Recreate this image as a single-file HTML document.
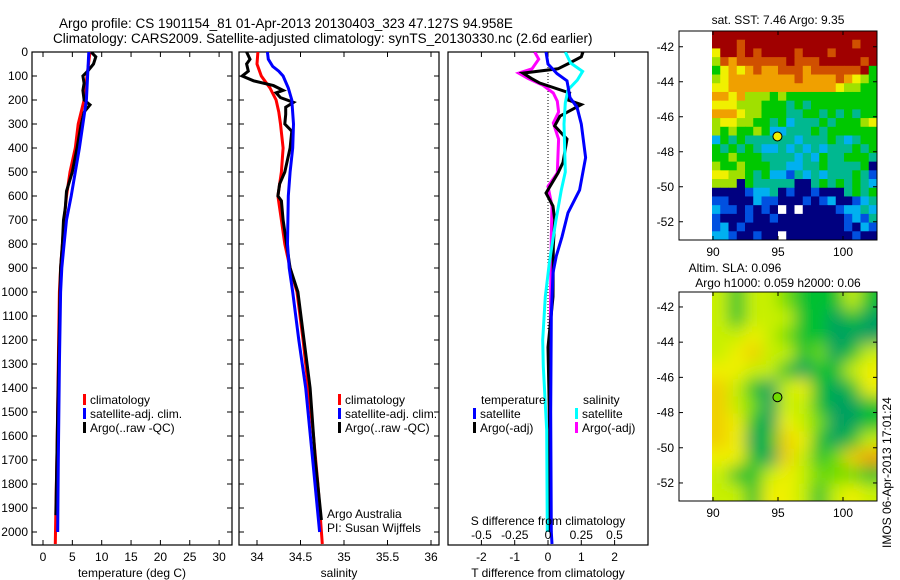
<!DOCTYPE html>
<html><head><meta charset="utf-8"><style>
body{margin:0;background:#fff;}
svg{display:block;font-family:"Liberation Sans",sans-serif;}
</style></head><body>
<svg id="fig" width="900" height="580" viewBox="0 0 900 580" xmlns="http://www.w3.org/2000/svg">
<text x="59" y="28" font-size="13.5">Argo profile: CS 1901154_81 01-Apr-2013 20130403_323 47.127S 94.958E</text>
<text x="53" y="43" font-size="13.5">Climatology: CARS2009. Satellite-adjusted climatology: synTS_20130330.nc (2.6d earlier)</text>
<text x="327" y="518" font-size="12">Argo Australia</text>
<text x="327" y="532" font-size="12">PI: Susan Wijffels</text>
<text x="778" y="24" font-size="12" text-anchor="middle">sat. SST: 7.46 Argo: 9.35</text>
<text x="735" y="272" font-size="12" text-anchor="middle">Altim. SLA: 0.096</text>
<text x="778" y="287" font-size="12" text-anchor="middle">Argo h1000: 0.059 h2000: 0.06</text>
<text transform="translate(891,548) rotate(-90)" font-size="12">IMOS 06-Apr-2013 17:01:24</text>
<defs><filter id="blur" filterUnits="userSpaceOnUse" x="690" y="270" width="210" height="260"><feGaussianBlur stdDeviation="8"/></filter>
<clipPath id="c2"><rect x="712" y="292" width="165" height="209"/></clipPath>
<clipPath id="cp1"><rect x="32" y="52" width="200" height="493"/></clipPath>
<clipPath id="cp2"><rect x="239" y="52" width="200" height="493"/></clipPath>
<clipPath id="cp3"><rect x="448" y="52" width="200" height="493"/></clipPath></defs>
</svg>
<script>
// ---- data ----
const depthTicks=[0,100,200,300,400,500,600,700,800,900,1000,1100,1200,1300,1400,1500,1600,1700,1800,1900,2000];
const tempTicks=[0,5,10,15,20,25,30];
const salTicks=[34,34.5,35,35.5,36];
const tdiffTicks=[-2,-1,0,1,2];
const sdiffTicks=[-0.5,-0.25,0,0.25,0.5];
const tClimDepth=[0,100,200,300,400,500,600,700,800,900,1000,1300,1650,1900,2050];
const tClim=[8.0,7.5,7.0,6.0,5.5,4.6,4.0,3.6,3.3,3.0,2.8,2.6,2.4,2.2,2.1];
const tSatDepth=[0,100,200,300,400,500,600,700,800,900,1000,1300,1700,2000];
const tSat=[7.8,7.6,7.4,6.8,6.2,5.5,4.8,4.0,3.6,3.2,3.0,2.8,2.6,2.5];
const tArgoDepth=[0,20,50,80,100,130,160,200,220,250,300,400,500,580,650,700,800,900,1000,1500,1930];
const tArgo=[8.2,9.0,8.6,7.6,6.8,7.0,6.8,7.0,8.0,7.0,6.5,5.8,5.0,4.0,3.8,3.5,3.3,3.0,2.9,2.5,2.2];
const sClimDepth=[0,50,100,150,200,250,300,400,500,600,700,800,900,1000,1200,1400,1600,1800,2050];
const sClim=[34.01,34.0,34.05,34.15,34.22,34.25,34.27,34.3,34.28,34.24,34.28,34.32,34.38,34.46,34.53,34.59,34.65,34.7,34.75];
const sSatDepth=[0,30,60,80,100,150,200,300,400,500,600,800,900,1000,1200,1400,1700,2000];
const sSat=[34.12,34.13,34.18,34.25,34.3,34.36,34.4,34.42,34.41,34.38,34.36,34.35,34.37,34.41,34.48,34.56,34.64,34.72];
const sArgoDepth=[0,30,50,80,100,120,140,160,170,190,210,230,260,300,330,400,500,550,600,620,700,800,900,1000,1400,1700,1950];
const sArgo=[33.88,33.92,33.88,33.9,33.83,33.96,34.19,34.3,34.22,34.27,34.42,34.33,34.33,34.32,34.4,34.38,34.32,34.26,34.24,34.28,34.3,34.34,34.38,34.47,34.61,34.67,34.74];
const dTSatDepth=[0,50,90,120,190,230,300,440,575,670,770,850,920,1100,1500,2000,2050];
const dTSat=[-0.06,0.0,0.27,0.57,0.66,0.87,1.0,1.13,0.95,0.6,0.42,0.25,0.15,0.1,0.08,0.1,0.12];
const dTArgoDepth=[0,20,46,70,88,110,129,171,200,219,267,308,363,460,504,588,642,700,812,1020,1230,1575,2000];
const dTArgo=[1.05,1.0,0.65,0.3,-0.75,-0.5,-0.25,0.65,0.6,1.0,0.36,0.2,0.57,0.45,0.3,-0.06,0.15,0.2,0.16,0.15,0.0,0.05,0.02];
const dSSatDepth=[0,46,81,117,158,212,300,500,575,700,770,880,1020,1200,1310,1575,2000];
const dSSat=[0.13,0.17,0.26,0.22,0.15,0.13,0.12,0.13,0.1,0.06,0.04,0.01,-0.02,-0.04,-0.035,-0.01,-0.005];
const dSArgoDepth=[0,30,70,88,110,138,171,205,250,296,363,504,560,642,770,1000,1437,2000];
const dSArgo=[-0.1,-0.07,-0.12,-0.22,-0.15,-0.04,0.04,0.07,0.08,0.04,0.08,0.07,0.0,0.03,0.025,0.02,0.01,0.005];
const lonTicks=[90,95,100];
const latTicks=[-42,-44,-46,-48,-50,-52];
const sstGrid=["99999999999999999999","99989999999999999899","69989899998999899999","58788888898889999989","46767877888788888894","56777777778777787654","66777777777777765544","77675554544444444444","66655544434344444444","77765544433443434344","56655443423334344456","54544542233343444444","24343333332333432344","43434322323232333434","44544433332324334443","54454443322334333340","66554342213232333431","55504333330034343432","00001223010010003434","11000211000101200123","21101010W0W000012232","10001001000000001213","12010000000000001021","22100100W00000000100"];
const slaGrid=["3133211131","3133311010","3343211000","3453312013","4433101134","5310341014","5320331001","5410432001","5401541013","4410531256","3113432221","3314431343"];
const sstColors=["#000080","#0050e0","#00b0f0","#00b890","#00c800","#a0e000","#f0f000","#f0a000","#d05000","#a00000"];
const slaColors=["#00a060","#00c030","#70dc00","#c8f000","#f0f000","#f0d000","#f0a000"];

const svg=document.getElementById('fig');
const NS='http://www.w3.org/2000/svg';
function mk(tag,attrs,parent){const e=document.createElementNS(NS,tag);for(const k in attrs)e.setAttribute(k,attrs[k]);(parent||svg).appendChild(e);return e;}
const yTop=52,yBot=545;
const yD=d=>yTop+d*0.24;

function panel(name,x0,x1,xs,ticks,fmt,showY,xlabel){
  const g=mk('g',{});
  
  
  mk('rect',{x:x0,y:yTop,width:x1-x0,height:yBot-yTop,fill:'none',stroke:'#000','stroke-width':1.2},g);
  ticks.forEach(t=>{const x=xs(t);
    mk('line',{x1:x,x2:x,y1:yTop,y2:yTop+5,stroke:'#000'},g);
    mk('line',{x1:x,x2:x,y1:yBot,y2:yBot-5,stroke:'#000'},g);
    const tx=mk('text',{x:x,y:561,'font-size':12,'text-anchor':'middle'},g);tx.textContent=fmt(t);
    
    
  });
  if(showY!==null) depthTicks.forEach(d=>{const y=yD(d);
    mk('line',{x1:x0,x2:x0+5,y1:y,y2:y,stroke:'#000'},g);
    mk('line',{x1:x1,x2:x1-5,y1:y,y2:y,stroke:'#000'},g);
    if(showY){const tx=mk('text',{x:28,y:y+4,'font-size':12,'text-anchor':'end'},g);tx.textContent=d;
      
      }
  });
  const xl=mk('text',{x:(x0+x1)/2,y:577,'font-size':12,'text-anchor':'middle'},g);xl.textContent=xlabel;
  
  
  return g;
}
function line(name,depths,vals,xs,color,clip){
  const pts=depths.map((d,i)=>xs(vals[i]).toFixed(1)+','+yD(d).toFixed(1)).join(' ');
  const p=mk('polyline',{points:pts,fill:'none',stroke:color,'stroke-width':3,'clip-path':'url(#'+clip+')'});
  
  
}
function legend(name,x,y,items){
  items.forEach((it,i)=>{
    const r=mk('rect',{x:x,y:y+i*14-10,width:3,height:11,fill:it[1]});
    
    
    const t=mk('text',{x:x+7,y:y+i*14,'font-size':12});t.textContent=it[0];
    
    
  });
}
// Panel 1 temperature
const xT=v=>43+v*5.87;
panel('temperature-panel',32,232,xT,tempTicks,t=>t,true,'temperature (deg C)');
line('temp-climatology-line',tClimDepth,tClim,xT,'#ff0000','cp1');
line('temp-argo-line',tArgoDepth,tArgo,xT,'#000','cp1');
line('temp-satellite-line',tSatDepth,tSat,xT,'#0000ff','cp1');
legend('temp-legend',83,404,[['climatology','#f00'],['satellite-adj. clim.','#00f'],['Argo(..raw -QC)','#000']]);
// Panel 2 salinity
const xS=v=>257+(v-34)*87;
panel('salinity-panel',239,439,xS,salTicks,t=>t,false,'salinity');
line('sal-climatology-line',sClimDepth,sClim,xS,'#ff0000','cp2');
line('sal-argo-line',sArgoDepth,sArgo,xS,'#000','cp2');
line('sal-satellite-line',sSatDepth,sSat,xS,'#0000ff','cp2');
legend('sal-legend',338,404,[['climatology','#f00'],['satellite-adj. clim.','#00f'],['Argo(..raw -QC)','#000']]);
// Panel 3 differences
const xDT=v=>548+v*33.3;
const xDS=v=>548+v*133;
panel('difference-panel',448,648,xDT,tdiffTicks,t=>t,null,'T difference from climatology');
mk('line',{x1:548,x2:548,y1:yTop,y2:330,stroke:'#000','stroke-dasharray':'1,2'});
line('dsal-argo-line',dSArgoDepth,dSArgo,xDS,'#ff00ff','cp3');
line('dtemp-argo-line',dTArgoDepth,dTArgo,xDT,'#000','cp3');
line('dsal-satellite-line',dSSatDepth,dSSat,xDS,'#00ffff','cp3');
line('dtemp-satellite-line',dTSatDepth,dTSat,xDT,'#0000ff','cp3');
sdiffTicks.forEach(t=>{const tx=mk('text',{x:xDS(t),y:539,'font-size':12,'text-anchor':'middle'});tx.textContent=(Math.round(t*100)/100);
  
  });
const sl=mk('text',{x:548,y:525,'font-size':12,'text-anchor':'middle'});sl.textContent='S difference from climatology';


const tl=mk('text',{x:481,y:404,'font-size':12});tl.textContent='temperature';


const sh=mk('text',{x:583,y:404,'font-size':12});sh.textContent='salinity';


legend('dtemp-legend',473,418,[['satellite','#00f'],['Argo(-adj)','#000']]);
legend('dsal-legend',575,418,[['satellite','#0ff'],['Argo(-adj)','#f0f']]);
// Maps
const mx0=679,mx1=877;
const lonX=v=>713+(v-90)*13;
function mapFrame(name,top,bot,latY){
  const g=mk('g',{});
  
  
  mk('rect',{x:mx0,y:top,width:mx1-mx0,height:bot-top,fill:'none',stroke:'#000'},g);
  lonTicks.forEach(t=>{const x=lonX(t);mk('line',{x1:x,x2:x,y1:bot,y2:bot-4,stroke:'#000'},g);mk('line',{x1:x,x2:x,y1:top,y2:top+4,stroke:'#000'},g);
    const tx=mk('text',{x:x,y:bot+16,'font-size':12,'text-anchor':'middle'},g);tx.textContent=t;
    
    });
  latTicks.forEach(t=>{const y=latY(t);mk('line',{x1:mx0,x2:mx0+4,y1:y,y2:y,stroke:'#000'},g);mk('line',{x1:mx1,x2:mx1-4,y1:y,y2:y,stroke:'#000'},g);
    const tx=mk('text',{x:674,y:y+4,'font-size':12,'text-anchor':'end'},g);tx.textContent=t;
    
    });
}
const lat1=v=>31+(-41.1-v)*17.5;
const lat2=v=>292+(-41.15-v)*17.6;
const cw=165/20,ch=209/24;
const sstG=mk('g',{});


sstGrid.forEach((row,r)=>{[...row].forEach((c,k)=>{
  const fill=c==='W'?'#fff':sstColors[+c];
  const cell=mk('rect',{x:(712+k*cw).toFixed(2),y:(31+r*ch).toFixed(2),width:(cw+0.4).toFixed(2),height:(ch+0.4).toFixed(2),fill:fill},sstG);
  
  
});});
mapFrame('sst-map-axes',31,240,lat1);
const c1=mk('circle',{cx:lonX(94.958),cy:lat1(-47.127),r:4.5,fill:'#f0f000',stroke:'#000'});


const slaG=mk('g',{'clip-path':'url(#c2)'});


const inner=mk('g',{filter:'url(#blur)'},slaG);
const sw=165/10,sh2=209/12;
slaGrid.forEach((row,r)=>{[...row].forEach((c,k)=>{
  const cell=mk('rect',{x:(712+k*sw-(k===0?15:0)).toFixed(2),y:(292+r*sh2-(r===0?15:0)).toFixed(2),width:(sw+(k===0||k===9?15:0)+0.5).toFixed(2),height:(sh2+(r===0||r===11?15:0)+0.5).toFixed(2),fill:slaColors[+c]},inner);
  
  
});});
mapFrame('sla-map-axes',292,501,lat2);
const c2=mk('circle',{cx:lonX(94.958),cy:lat2(-47.127),r:4.5,fill:'#70dc00',stroke:'#000'});


</script>
</body></html>
